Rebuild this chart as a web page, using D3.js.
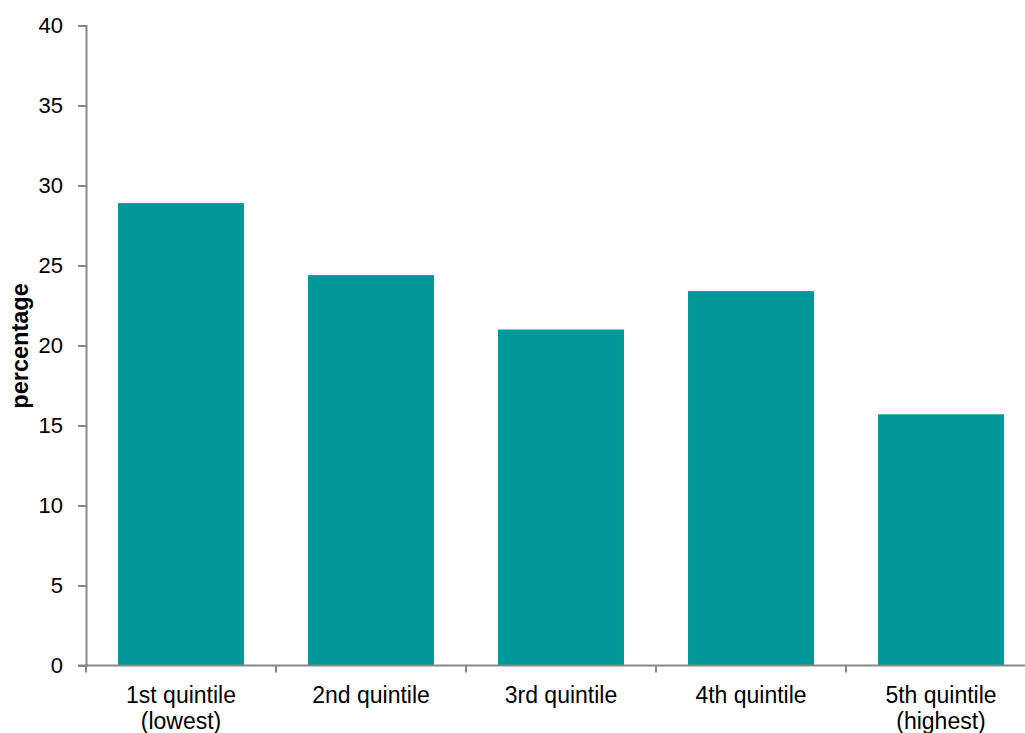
<!DOCTYPE html>
<html><head><meta charset="utf-8">
<script src="https://cdn.jsdelivr.net/npm/d3@7"></script>
<style>body{margin:0;background:#fff}svg{display:block}text{font-family:"Liberation Sans",Arial,sans-serif}</style>
</head><body>
<svg id="c" width="1025" height="733"></svg>
<script>
const categories = [["1st quintile","(lowest)"],["2nd quintile"],["3rd quintile"],["4th quintile"],["5th quintile","(highest)"]];
const values = [28.9, 24.4, 21.0, 23.4, 15.7];
const yTicks = [0,5,10,15,20,25,30,35,40];

const svg = d3.select("#c");
const x0 = 86, x1 = 1036, yTop = 25.5, yBot = 665.5;
const ids = categories.map((d,i)=>i);
const x = d3.scaleBand().domain(ids).range([x0,x1]).paddingInner(64/190).paddingOuter(32/190);
const y = d3.scaleLinear().domain([0,40]).range([yBot,yTop]);
const axisColor = "#878787";

svg.selectAll("rect.bar").data(values).enter().append("rect")
  .attr("x",(d,i)=>x(i)).attr("width",x.bandwidth())
  .attr("y",d=>y(d)).attr("height",d=>y(0)-y(d))
  .attr("fill","#009999");

const ya = svg.append("g").attr("transform",`translate(${x0},0)`)
  .call(d3.axisLeft(y).tickValues(yTicks).tickSize(8).tickPadding(15));
ya.select(".domain").attr("stroke",axisColor).attr("stroke-width",2);
ya.selectAll(".tick line").attr("stroke",axisColor).attr("stroke-width",2);
ya.selectAll(".tick text").attr("font-size",22).attr("fill","#000").attr("font-family","Liberation Sans, Arial, sans-serif");

// x axis
svg.append("line").attr("x1",x0-8).attr("x2",1025).attr("y1",y(0)).attr("y2",y(0)).attr("stroke",axisColor).attr("stroke-width",2);
const step = x.step();
const bounds = ids.map(i=>x(i) - x.paddingInner()*step/2).map((v,i)=> i===0 ? x0 : v);
bounds.push(x1);
svg.selectAll("line.xt").data(bounds).enter().append("line")
  .attr("x1",d=>d).attr("x2",d=>d).attr("y1",y(0)).attr("y2",y(0)+7)
  .attr("stroke",axisColor).attr("stroke-width",2);

const lab = svg.selectAll("text.xl").data(categories).enter().append("text")
  .attr("text-anchor","middle").attr("font-size",23).attr("fill","#000")
  .attr("transform",(d,i)=>`translate(${x(i)+x.bandwidth()/2},703)`);
lab.selectAll("tspan").data(d=>d).enter().append("tspan")
  .attr("x",0).attr("dy",(d,i)=>i===0?0:25.5).text(d=>d);

svg.append("text").attr("transform","translate(28,346) rotate(-90)")
  .attr("text-anchor","middle").attr("font-size",23.5).attr("font-weight","bold").attr("fill","#000")
  .text("percentage");
</script>
</body></html>
